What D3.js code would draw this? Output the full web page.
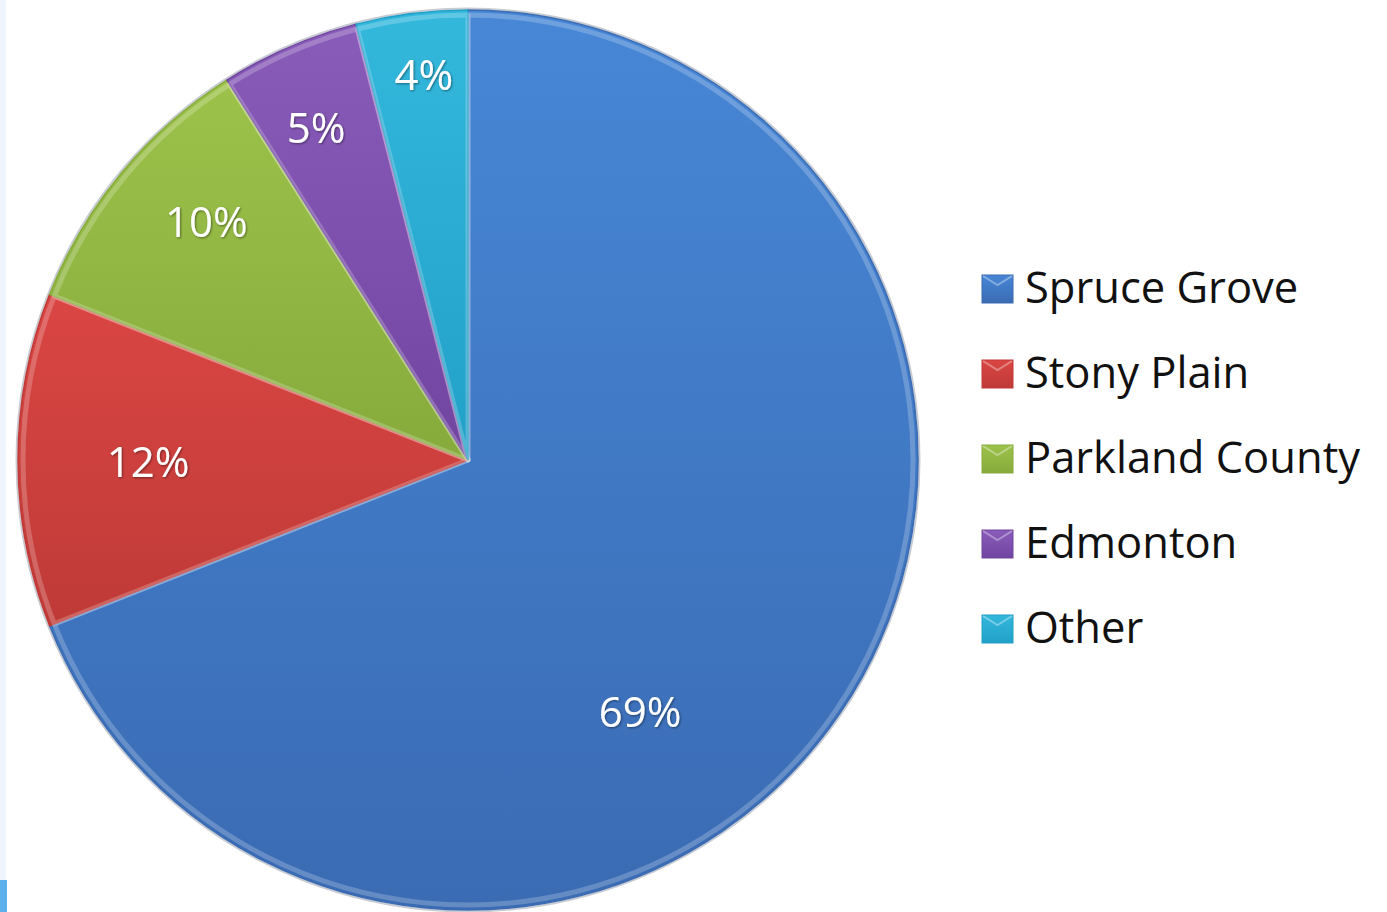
<!DOCTYPE html>
<html><head><meta charset="utf-8">
<script src="https://cdn.jsdelivr.net/npm/d3@7"></script>
<style>html,body{margin:0;padding:0;background:#fff;overflow:hidden}</style>
</head><body>
<svg id="c" width="1387" height="912"></svg>
<script>
const categories = ["Spruce Grove", "Stony Plain", "Parkland County", "Edmonton", "Other"];
const values = [69, 12, 10, 5, 4];
const labels = ["69%", "12%", "10%", "5%", "4%"];
const colorsLight = ["#4787d6", "#da4643", "#9dc24a", "#8a5cba", "#33b8dc"];
const colorsDark = ["#3a6bb3", "#bf3a37", "#86ab3c", "#7045a0", "#22a0c8"];

const W = 1387, H = 912;
const cx = 468, cy = 460, R = 450;
const font = "'Open Sans', 'Noto Sans', sans-serif";

const svg = d3.select("#c");
const defs = svg.append("defs");

// page edge decoration
svg.append("rect").attr("x",0).attr("y",0).attr("width",6).attr("height",H).attr("fill","#eef5fc");
svg.append("rect").attr("x",0).attr("y",880).attr("width",7).attr("height",32).attr("fill","#5cb0ec");

categories.forEach((c,i)=>{
  const g = defs.append("linearGradient").attr("id","g"+i).attr("x1",0).attr("y1",0).attr("x2",0).attr("y2",1);
  g.append("stop").attr("offset","0%").attr("stop-color",colorsLight[i]);
  g.append("stop").attr("offset","100%").attr("stop-color",colorsDark[i]);
  const g2 = defs.append("linearGradient").attr("id","lg"+i).attr("x1",0).attr("y1",0).attr("x2",0).attr("y2",1);
  g2.append("stop").attr("offset","0%").attr("stop-color",colorsLight[i]);
  g2.append("stop").attr("offset","100%").attr("stop-color",colorsDark[i]);
});
const f = defs.append("filter").attr("id","ts").attr("x","-20%").attr("y","-20%").attr("width","140%").attr("height","140%");
f.append("feDropShadow").attr("dx",1).attr("dy",1).attr("stdDeviation",1.2).attr("flood-color","#000").attr("flood-opacity",0.45);

const pie = d3.pie().sort(null).value(d=>d)(values);
const arc = d3.arc().innerRadius(0).outerRadius(R);
const arcIn = d3.arc().innerRadius(0).outerRadius(R-5);

const g = svg.append("g").attr("transform",`translate(${cx},${cy})`);

// outer soft edge
g.append("circle").attr("r",R+1.5).attr("fill","none").attr("stroke","#c8ccd2").attr("stroke-width",2);

pie.forEach((d,i)=>{
  g.append("path").attr("d",arc(d)).attr("fill","url(#g"+i+")")
    .attr("stroke",colorsDark[i]).attr("stroke-width",1.5);
  // bevel highlight
  g.append("path").attr("d",arcIn(d)).attr("fill","none")
    .attr("stroke","#ffffff").attr("stroke-opacity",0.22).attr("stroke-width",5)
    .attr("stroke-linejoin","round");
});

// label placement (polar: radius, angle in degrees clockwise from top)
const labelPolar = [[304,145.5],[320,270],[355,312.5],[366,335.5],[389,353.5]];
pie.forEach((d,i)=>{
  const [r,a] = labelPolar[i];
  const t = a*Math.PI/180;
  g.append("text").attr("x", r*Math.sin(t)).attr("y", -r*Math.cos(t))
    .attr("text-anchor","middle").attr("dominant-baseline","central")
    .attr("font-family",font).attr("font-size",42).attr("fill","#fff")
    .attr("filter","url(#ts)")
    .text(labels[i]);
});

// legend
const legY = d3.scalePoint().domain(categories).range([289, 629]);
const leg = svg.append("g");
categories.forEach((c,i)=>{
  const y = legY(c);
  leg.append("rect").attr("x",982).attr("y",y-14).attr("width",31).attr("height",28)
    .attr("fill","url(#lg"+i+")").attr("stroke",colorsDark[i]).attr("stroke-width",1);
  leg.append("path").attr("d",`M${983},${y-13} L${997.5},${y-4} L${1012},${y-13}`)
    .attr("fill","none").attr("stroke","#fff").attr("stroke-opacity",0.35).attr("stroke-width",2);
  leg.append("text").attr("x",1025).attr("y",y+14)
    .attr("font-family",font).attr("font-size",43.5).attr("fill","#111")
    .text(c);
});
</script>
</body></html>
